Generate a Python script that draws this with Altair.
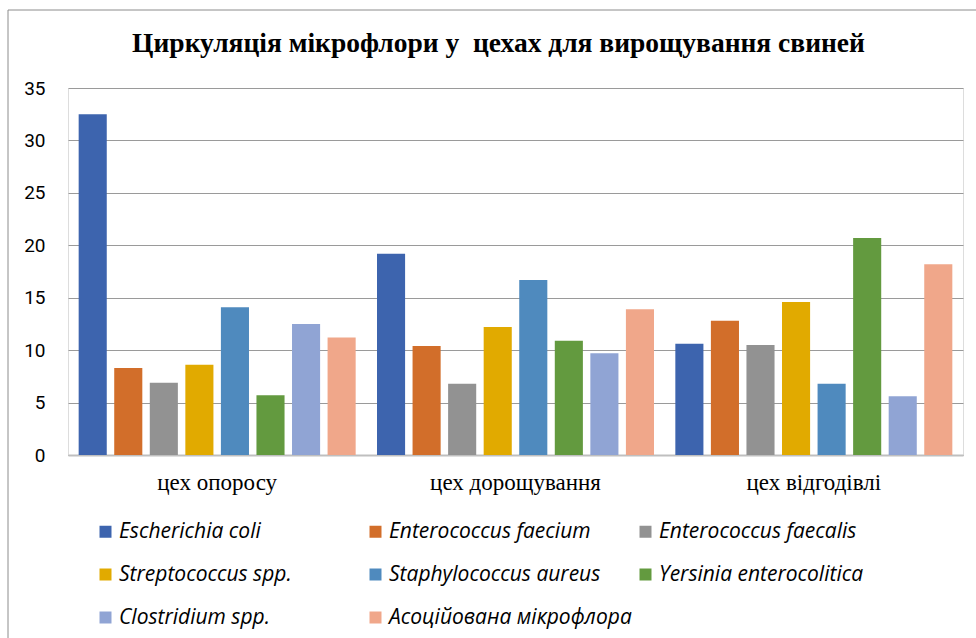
import altair as alt
import pandas as pd

# Workshops (x groups) and microorganism series
workshops = ["цех опоросу", "цех дорощування", "цех відгодівлі"]
organisms = [
    "Escherichia coli",
    "Enterococcus faecium",
    "Enterococcus faecalis",
    "Streptococcus spp.",
    "Staphylococcus aureus",
    "Yersinia enterocolitica",
    "Clostridium spp.",
    "Асоційована мікрофлора",
]

# Values per organism, one per workshop
escherichia_coli = [32.5, 19.2, 10.6]
enterococcus_faecium = [8.3, 10.4, 12.8]
enterococcus_faecalis = [6.9, 6.8, 10.5]
streptococcus_spp = [8.6, 12.2, 14.6]
staphylococcus_aureus = [14.1, 16.7, 6.8]
yersinia_enterocolitica = [5.7, 10.9, 20.7]
clostridium_spp = [12.5, 9.7, 5.6]
associated_flora = [11.2, 13.9, 18.2]

colors = ["#3D64AE", "#D26E2A", "#929292", "#E1AA00",
          "#4F8ABE", "#639A3F", "#90A4D4", "#F0A78A"]

series_values = [
    escherichia_coli, enterococcus_faecium, enterococcus_faecalis,
    streptococcus_spp, staphylococcus_aureus, yersinia_enterocolitica,
    clostridium_spp, associated_flora,
]

rows = []
for org, vals in zip(organisms, series_values):
    for ws, v in zip(workshops, vals):
        rows.append({"workshop": ws, "organism": org, "value": v})
df = pd.DataFrame(rows)

W, H = 895, 367

bars = alt.Chart(df).mark_bar().encode(
    x=alt.X("workshop:N", sort=workshops, title=None,
            scale=alt.Scale(paddingInner=0, paddingOuter=0),
            axis=alt.Axis(labelAngle=0, ticks=False, domain=True,
                          domainColor="#BFBFBF", domainWidth=2,
                          labelFont="Liberation Serif", labelFontSize=23,
                          labelColor="#000000", labelPadding=16)),
    xOffset=alt.XOffset("organism:N", sort=organisms,
                        scale=alt.Scale(paddingInner=0.21, paddingOuter=0.3)),
    y=alt.Y("value:Q", title=None,
            scale=alt.Scale(domain=[0, 35]),
            axis=alt.Axis(values=[0, 5, 10, 15, 20, 25, 30, 35],
                          domain=False, ticks=False, grid=True,
                          gridColor="#9A9A9A", gridWidth=1,
                          labelFont="Roboto", labelFontSize=19,
                          labelColor="#000000", labelPadding=23)),
    color=alt.Color(
        "organism:N", sort=organisms,
        scale=alt.Scale(domain=organisms, range=colors),
        legend=alt.Legend(
            title=None, orient="none", legendX=27, legendY=433,
            direction="horizontal",
            columns=3, gridAlign="all", columnPadding=3, rowPadding=21,
            symbolType="square", symbolSize=144, symbolStrokeWidth=0,
            labelOffset=3, labelFont="Open Sans", labelFontStyle="italic",
            labelFontSize=21, labelColor="#000000", labelLimit=400,
            padding=0,
            labelExpr="datum.label == 'Yersinia enterocolitica' ? '\u00a0' + datum.label : datum.label",
        ),
    ),
)

# Outer frame around the chart
frame = alt.Chart(pd.DataFrame({"f": [0]})).mark_rect(
    filled=False, stroke="#8C8C8C", strokeWidth=1
).encode(
    x=alt.value(-60), x2=alt.value(W + 200),
    y=alt.value(-78), y2=alt.value(H + 300),
)

chart = alt.layer(bars, frame).properties(
    width=W, height=H,
    padding={"left": 68, "top": 88, "right": 13, "bottom": 183},
    autosize=alt.AutoSizeParams(type="none"),
    title=alt.Title(
        "Циркуляція мікрофлори у \u00a0цехах для вирощування свиней",
        font="Liberation Serif", fontSize=27.5, fontWeight="bold",
        color="#000000", anchor="middle", frame="group",
        baseline="alphabetic", offset=0, dy=70, dx=-17,
    ),
).configure_view(stroke=None).configure(background="#FFFFFF")

chart.save("out.html", embed_options={"renderer": "svg", "actions": False})
